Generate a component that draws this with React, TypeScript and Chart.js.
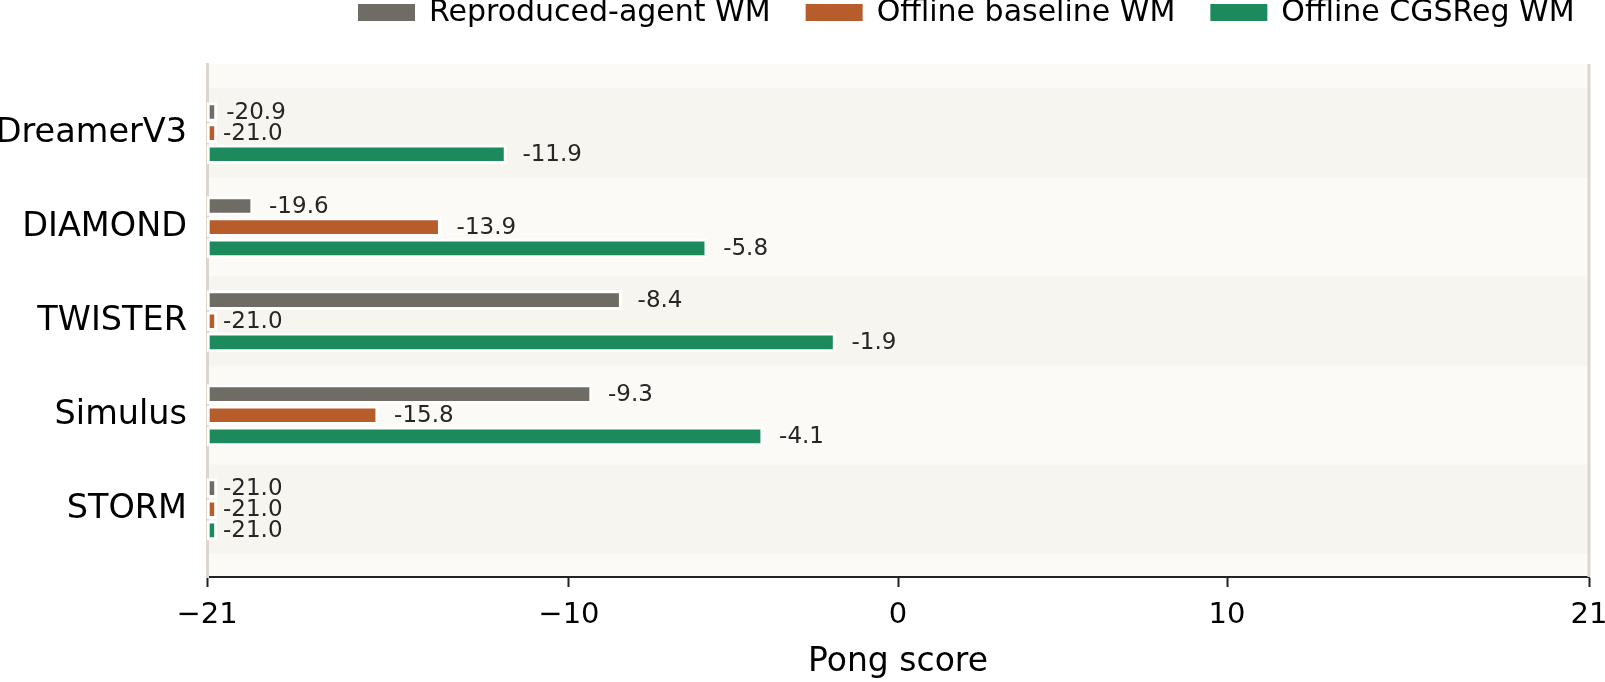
import React, { useEffect, useRef } from 'react';
import { Chart, registerables } from 'chart.js';

Chart.register(...registerables);

const categories = ['DreamerV3', 'DIAMOND', 'TWISTER', 'Simulus', 'STORM'];
const reproducedAgentWM = [-20.9, -19.6, -8.4, -9.3, -21.0];
const offlineBaselineWM = [-21.0, -13.9, -21.0, -15.8, -21.0];
const offlineCGSRegWM = [-11.9, -5.8, -1.9, -4.1, -21.0];
const seriesLabels = ['Reproduced-agent WM', 'Offline baseline WM', 'Offline CGSReg WM'];
const seriesValues = [reproducedAgentWM, offlineBaselineWM, offlineCGSRegWM];
const seriesColors = ['#6f6b65', '#b75d2c', '#1c8a5c'];
const xTickValues = [-21, -10, 0, 10, 21];

const AXIS_MIN = -21;
const AXIS_MAX = 21;
const GROUP_OFFSETS = [-0.225, 0, 0.225];
const MIN_VISIBLE = 0.3;
const FONT = '"DejaVu Sans", sans-serif';

const decorPlugin = {
  id: 'decor',
  beforeDraw(chart: any) {
    const { ctx, chartArea, scales } = chart;
    const { left, right, top, bottom } = chartArea;
    const y = scales.y;
    ctx.save();
    ctx.fillStyle = '#fbfaf7';
    ctx.fillRect(left, top, right - left, bottom - top);
    ctx.fillStyle = '#f6f5f0';
    categories.forEach((_, i) => {
      if (i % 2 === 0) {
        const y0 = y.getPixelForValue(i - 0.475);
        const y1 = y.getPixelForValue(i + 0.475);
        ctx.fillRect(left, Math.min(y0, y1), right - left, Math.abs(y1 - y0));
      }
    });
    ctx.restore();
  },
  afterDatasetsDraw(chart: any) {
    const { ctx, chartArea, scales } = chart;
    const xs = scales.x;
    ctx.save();
    // right spine
    ctx.strokeStyle = '#ddd6cc';
    ctx.lineWidth = 3;
    ctx.beginPath();
    ctx.moveTo(chartArea.right, chartArea.top);
    ctx.lineTo(chartArea.right, chartArea.bottom);
    ctx.stroke();
    // value labels
    ctx.font = `23px ${FONT}`;
    ctx.fillStyle = '#262626';
    ctx.textAlign = 'left';
    ctx.textBaseline = 'middle';
    seriesValues.forEach((vals, d) => {
      const meta = chart.getDatasetMeta(d);
      vals.forEach((v, i) => {
        const el = meta.data[i];
        if (!el) return;
        const px = xs.getPixelForValue(v) + 16;
        ctx.fillText(v.toFixed(1), px, el.y + 1);
      });
    });
    ctx.restore();
  },
  afterDraw(chart: any) {
    const { ctx } = chart;
    ctx.save();
    ctx.font = `30px ${FONT}`;
    ctx.textBaseline = 'middle';
    ctx.textAlign = 'left';
    const BOX_W = 57;
    const BOX_H = 17;
    const TEXT_GAP = 14;
    const ITEM_GAP = 35;
    const cy = 13;
    let x = 358;
    seriesLabels.forEach((t, i) => {
      ctx.fillStyle = seriesColors[i];
      ctx.fillRect(x, 4, BOX_W, BOX_H);
      ctx.fillStyle = '#000';
      const tx = x + BOX_W + TEXT_GAP;
      ctx.fillText(t, tx, cy);
      x = tx + ctx.measureText(t).width + ITEM_GAP;
    });
    ctx.restore();
  },
};

export default function App() {
  const canvasRef = useRef<HTMLCanvasElement | null>(null);

  useEffect(() => {
    document.body.style.margin = '0';
    const canvas = canvasRef.current;
    if (!canvas) return;
    Chart.defaults.font.family = FONT;

    const datasets = seriesValues.map((vals, d) => ({
      label: seriesLabels[d],
      data: vals.map((v, i) => ({
        x: [AXIS_MIN, Math.max(v, AXIS_MIN + MIN_VISIBLE)],
        y: i + GROUP_OFFSETS[d],
      })),
      backgroundColor: seriesColors[d],
      borderColor: '#ffffff',
      borderWidth: 3,
      borderSkipped: false,
      barThickness: 19,
      grouped: false,
    }));

    const chart = new Chart(canvas, {
      type: 'bar',
      data: { datasets } as any,
      plugins: [decorPlugin],
      options: {
        indexAxis: 'y',
        responsive: false,
        animation: false,
        maintainAspectRatio: false,
        layout: { padding: { top: 64, right: 16, left: 0, bottom: 0 } },
        plugins: {
          legend: { display: false },
          tooltip: { enabled: false },
          title: { display: false },
        },
        scales: {
          x: {
            type: 'linear',
            position: 'bottom',
            min: AXIS_MIN,
            max: AXIS_MAX,
            offset: false,
            afterBuildTicks: (s: any) => {
              s.ticks = xTickValues.map((v) => ({ value: v }));
            },
            afterFit: (s: any) => {
              s.height = 105;
              s.paddingLeft = 0;
              s.paddingRight = 0;
            },
            ticks: {
              callback: (v: any) => String(v).replace('-', '\u2212'),
              font: { family: FONT, size: 29 },
              color: '#000',
              padding: 11,
              maxRotation: 0,
              autoSkip: false,
            },
            grid: {
              offset: false,
              drawOnChartArea: false,
              drawTicks: true,
              tickLength: 10,
              tickWidth: 2,
              tickColor: '#222',
            },
            border: { display: true, color: '#222', width: 2 },
            title: {
              display: true,
              text: 'Pong score',
              font: { family: FONT, size: 33 },
              color: '#000',
              padding: { top: 0, bottom: 0 },
            },
          },
          y: {
            type: 'linear',
            position: 'left',
            reverse: true,
            offset: false,
            min: -0.735,
            max: 4.72,
            afterBuildTicks: (s: any) => {
              s.ticks = categories.map((_, i) => ({ value: i }));
            },
            afterFit: (s: any) => {
              s.width = 207;
              s.paddingTop = 0;
              s.paddingBottom = 0;
            },
            ticks: {
              callback: (v: any) => categories[v] ?? '',
              font: { family: FONT, size: 33.5 },
              color: '#000',
              padding: 20,
              autoSkip: false,
            },
            grid: { display: false, drawTicks: false, offset: false },
            border: { display: true, color: '#ddd6cc', width: 3 },
          },
        },
      } as any,
    });

    return () => chart.destroy();
  }, []);

  return (
    <div style={{ width: 1605, height: 682 }}>
      <canvas ref={canvasRef} width={1605} height={682} />
    </div>
  );
}
